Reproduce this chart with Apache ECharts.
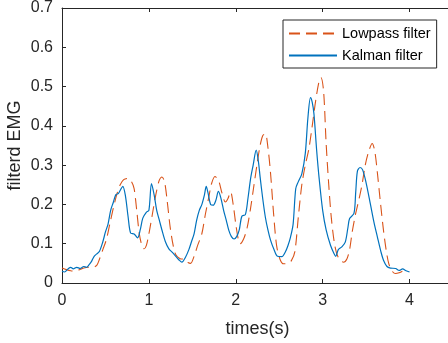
<!DOCTYPE html>
<html>
<head>
<meta charset="utf-8">
<script src="https://cdn.jsdelivr.net/npm/echarts@6/dist/echarts.min.js"></script>
<style>html,body{margin:0;padding:0;background:#fff}#chart{width:448px;height:343px}</style>
</head>
<body>
<div id="chart"></div>
<script>
const xTicks = [0, 1, 2, 3, 4];
const yTicks = [0, 0.1, 0.2, 0.3, 0.4, 0.5, 0.6, 0.7];
const seriesNames = ['Lowpass filter', 'Kalman filter'];

const lowpassTime = [0,0.05,0.10,0.15,0.20,0.25,0.30,0.35,0.40,0.43,0.47,0.51,0.55,0.59,0.63,0.67,0.71,0.76,0.80,0.83,0.86,0.89,0.92,0.945,0.97,1.00,1.04,1.08,1.12,1.15,1.18,1.21,1.245,1.28,1.31,1.36,1.41,1.45,1.48,1.52,1.56,1.61,1.65,1.69,1.72,1.76,1.80,1.84,1.88,1.91,1.94,1.97,2.00,2.03,2.05,2.09,2.13,2.17,2.21,2.25,2.28,2.31,2.34,2.37,2.40,2.435,2.47,2.51,2.55,2.60,2.64,2.68,2.72,2.76,2.80,2.84,2.88,2.92,2.96,2.98,3.01,3.04,3.07,3.10,3.14,3.18,3.24,3.28,3.31,3.34,3.38,3.42,3.455,3.49,3.53,3.57,3.60,3.63,3.66,3.70,3.73,3.76,3.80,3.84,3.88,3.92,3.95];
const lowpassValues = [0.038,0.034,0.031,0.030,0.034,0.038,0.040,0.040,0.045,0.060,0.085,0.110,0.150,0.190,0.225,0.250,0.263,0.266,0.258,0.240,0.185,0.125,0.095,0.087,0.095,0.125,0.175,0.225,0.262,0.270,0.258,0.210,0.142,0.095,0.072,0.062,0.060,0.052,0.050,0.068,0.095,0.126,0.175,0.219,0.252,0.271,0.262,0.230,0.206,0.215,0.232,0.200,0.150,0.110,0.100,0.112,0.140,0.190,0.250,0.310,0.350,0.375,0.380,0.345,0.280,0.177,0.095,0.060,0.049,0.050,0.057,0.080,0.168,0.250,0.300,0.340,0.400,0.465,0.515,0.523,0.490,0.355,0.250,0.165,0.095,0.065,0.053,0.062,0.085,0.130,0.177,0.215,0.253,0.300,0.335,0.355,0.335,0.280,0.215,0.134,0.085,0.050,0.030,0.024,0.026,0.030,0.032];

const kalmanTime = [0,0.03,0.07,0.10,0.13,0.17,0.21,0.25,0.28,0.31,0.34,0.37,0.40,0.43,0.47,0.50,0.53,0.56,0.59,0.62,0.65,0.68,0.70,0.73,0.76,0.79,0.83,0.87,0.90,0.93,0.97,1.00,1.03,1.06,1.09,1.12,1.15,1.19,1.23,1.27,1.31,1.35,1.38,1.42,1.46,1.49,1.52,1.55,1.58,1.61,1.64,1.66,1.68,1.71,1.74,1.77,1.80,1.83,1.86,1.89,1.92,1.95,1.98,2.01,2.04,2.07,2.11,2.14,2.17,2.20,2.235,2.26,2.28,2.31,2.34,2.37,2.40,2.44,2.48,2.53,2.57,2.60,2.63,2.66,2.69,2.72,2.76,2.80,2.83,2.86,2.88,2.90,2.93,2.96,3.00,3.04,3.09,3.13,3.15,3.18,3.22,3.26,3.29,3.31,3.36,3.38,3.40,3.43,3.46,3.50,3.55,3.59,3.63,3.67,3.70,3.74,3.78,3.84,3.88,3.92,3.96,4.00];
const kalmanValues = [0.030,0.028,0.036,0.040,0.036,0.040,0.037,0.042,0.040,0.046,0.055,0.068,0.074,0.080,0.105,0.130,0.150,0.185,0.205,0.225,0.228,0.240,0.246,0.222,0.170,0.127,0.125,0.115,0.135,0.165,0.180,0.185,0.253,0.225,0.185,0.160,0.135,0.105,0.087,0.078,0.068,0.058,0.053,0.065,0.085,0.105,0.125,0.160,0.185,0.200,0.225,0.246,0.230,0.200,0.198,0.210,0.233,0.215,0.185,0.160,0.134,0.118,0.112,0.118,0.135,0.170,0.174,0.215,0.265,0.300,0.338,0.310,0.270,0.215,0.168,0.135,0.109,0.085,0.068,0.067,0.079,0.095,0.117,0.150,0.240,0.258,0.278,0.330,0.420,0.472,0.460,0.430,0.340,0.265,0.185,0.135,0.096,0.075,0.068,0.085,0.092,0.104,0.140,0.164,0.177,0.230,0.285,0.294,0.288,0.255,0.200,0.155,0.117,0.080,0.058,0.042,0.038,0.037,0.032,0.036,0.031,0.028];

const zip = (a, b) => a.map((t, i) => [t, b[i]]);
const FONT = 'Liberation Sans, Arial, Helvetica, sans-serif';
const AX = '#262626';

const chart = echarts.init(document.getElementById('chart'), null, {renderer: 'canvas'});
chart.setOption({
  animation: false,
  backgroundColor: '#fff',
  grid: {left: 62, top: 8, right: -5, bottom: 60, containLabel: false, outerBoundsMode: 'none'},
  legend: {
    orient: 'vertical', left: 283, top: 20,
    padding: [6, 6, 5, 5], itemGap: 7, itemWidth: 48, itemHeight: 14,
    borderColor: AX, borderWidth: 1, borderRadius: 0, backgroundColor: '#fff',
    itemStyle: {opacity: 0},
    textStyle: {fontFamily: FONT, fontSize: 14.5, color: '#000', lineHeight: 14},
    data: seriesNames
  },
  xAxis: [{
    type: 'value', min: 0, max: 4.5, interval: 1, position: 'bottom',
    name: 'times(s)', nameLocation: 'middle', nameGap: 37, nameMoveOverlap: false,
    nameTextStyle: {fontFamily: FONT, fontSize: 18, color: AX},
    axisLine: {lineStyle: {color: AX, width: 1}},
    axisTick: {inside: true, length: 4, lineStyle: {color: AX}},
    axisLabel: {fontFamily: FONT, fontSize: 16, color: AX, margin: 10,
      formatter: v => (xTicks.indexOf(v) >= 0 ? String(v) : '')},
    splitLine: {show: false}
  }, {
    type: 'value', min: 0, max: 4.5, interval: 1, position: 'top',
    axisLine: {lineStyle: {color: AX, width: 1}},
    axisTick: {inside: true, length: 4, lineStyle: {color: AX}},
    axisLabel: {show: false},
    splitLine: {show: false}
  }],
  yAxis: {
    type: 'value', min: 0, max: 0.7, interval: 0.1,
    name: 'filterd EMG', nameLocation: 'middle', nameGap: 38, nameMoveOverlap: false,
    nameTextStyle: {fontFamily: FONT, fontSize: 18, color: AX},
    axisLine: {show: true, lineStyle: {color: AX, width: 1}},
    axisTick: {show: true, inside: true, length: 4, lineStyle: {color: AX}},
    axisLabel: {fontFamily: FONT, fontSize: 16, color: AX, margin: 9,
      formatter: v => String(Math.round(v * 10) / 10)},
    splitLine: {show: false}
  },
  series: [{
    name: seriesNames[0], type: 'line', xAxisIndex: 0,
    data: zip(lowpassTime, lowpassValues),
    showSymbol: false, symbol: 'none', smooth: 0.3,
    itemStyle: {color: '#D95319'},
    lineStyle: {color: '#D95319', width: 1.1, type: [11, 6]}
  }, {
    name: seriesNames[1], type: 'line', xAxisIndex: 0,
    data: zip(kalmanTime, kalmanValues),
    showSymbol: false, symbol: 'none', smooth: 0.3,
    itemStyle: {color: '#0072BD'},
    lineStyle: {color: '#0072BD', width: 1.2}
  }]
});
</script>
</body>
</html>
